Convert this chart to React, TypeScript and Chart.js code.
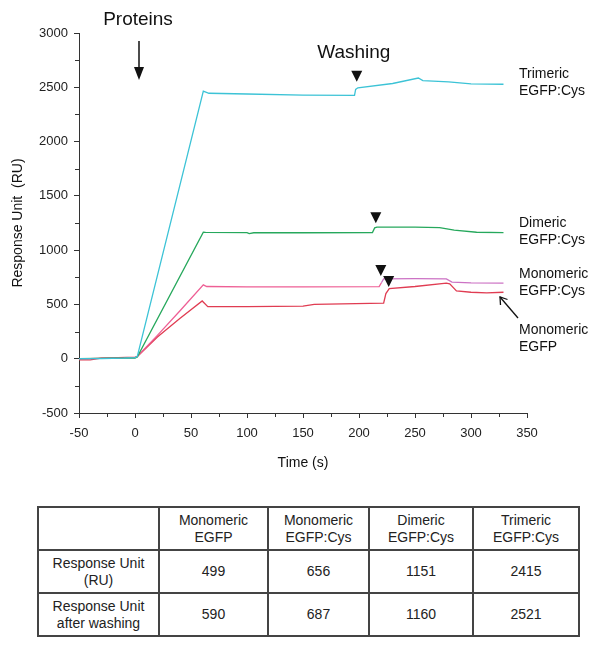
import React, { useEffect, useRef } from "react";
import { Chart, registerables } from "chart.js";

Chart.register(...registerables);

const FONT = "'Liberation Sans', Arial, Helvetica, sans-serif";

// ---- series data (time in s, response in RU) ----
const trimericTime = [-50, -30, -10, 0, 2, 61, 66, 100, 150, 196, 197, 199, 230, 253, 257, 280, 300, 329];
const trimericRU = [0, 0, 5, 10, 20, 2465, 2445, 2438, 2428, 2425, 2480, 2495, 2535, 2585, 2562, 2550, 2532, 2528];

const dimericTime = [-50, -20, 0, 2, 61, 63, 100, 102, 106, 150, 212, 214, 216, 250, 272, 285, 305, 329];
const dimericRU = [0, 5, 5, 15, 1165, 1163, 1162, 1152, 1160, 1160, 1162, 1205, 1212, 1212, 1208, 1185, 1165, 1162];

const monoCysTime = [-50, -30, 0, 2, 20, 40, 61, 64, 100, 150, 218, 220, 222, 250, 278, 283, 300, 329];
const monoCysRU = [-5, 5, 10, 20, 215, 440, 680, 665, 662, 662, 664, 700, 735, 738, 735, 706, 698, 697];

const monoEgfpTime = [-50, -40, -30, 0, 2, 20, 40, 60, 65, 100, 150, 160, 222, 224, 227, 250, 278, 281, 287, 300, 314, 329];
const monoEgfpRU = [-10, -10, 5, 15, 20, 200, 370, 532, 480, 480, 485, 500, 512, 600, 645, 665, 697, 690, 624, 612, 606, 612];

// washing markers (time, RU anchor of the arrowhead)
const washTime = [198, 215, 219.5, 226.5];
const washRU = [2495, 1210, 735, 642];

const seriesLabels = [
  ["Trimeric", "EGFP:Cys"],
  ["Dimeric", "EGFP:Cys"],
  ["Monomeric", "EGFP:Cys"],
  ["Monomeric", "EGFP"],
];

// table data
const tableColumns = ["Monomeric\nEGFP", "Monomeric\nEGFP:Cys", "Dimeric\nEGFP:Cys", "Trimeric\nEGFP:Cys"];
const tableRowLabels = ["Response Unit\n(RU)", "Response Unit\nafter washing"];
const responseRU = [499, 656, 1151, 2415];
const responseAfterWash = [590, 687, 1160, 2521];

const xTicksMin = -50;
const xTicksMax = 350;
const yTicksMin = -500;
const yTicksMax = 3000;

const toPoints = (t: number[], v: number[]) => t.map((x, i) => ({ x, y: v[i] }));

const annotationPlugin = {
  id: "annotations",
  afterDraw(chart: any) {
    const { ctx, scales } = chart;
    const xs = scales.x;
    const ys = scales.y;
    ctx.save();
    // minor ticks
    ctx.strokeStyle = "#333";
    ctx.lineWidth = 1;
    const bottom = chart.chartArea.bottom;
    const left = chart.chartArea.left;
    for (let v = xTicksMin + 25; v < xTicksMax; v += 50) {
      const px = Math.round(xs.getPixelForValue(v)) + 0.5;
      ctx.beginPath();
      ctx.moveTo(px, bottom);
      ctx.lineTo(px, bottom + 4);
      ctx.stroke();
    }
    for (let v = yTicksMin + 250; v < yTicksMax; v += 500) {
      const py = Math.round(ys.getPixelForValue(v)) + 0.5;
      ctx.beginPath();
      ctx.moveTo(left, py);
      ctx.lineTo(left - 4, py);
      ctx.stroke();
    }

    ctx.fillStyle = "#111";
    ctx.strokeStyle = "#111";
    // Proteins label and arrow
    ctx.font = `19px ${FONT}`;
    ctx.textAlign = "center";
    ctx.textBaseline = "middle";
    const px0 = xs.getPixelForValue(0) + 4;
    ctx.fillText("Proteins", px0 - 1, 20);
    ctx.lineWidth = 1.5;
    ctx.beginPath();
    ctx.moveTo(px0, 41);
    ctx.lineTo(px0, 70);
    ctx.stroke();
    ctx.beginPath();
    ctx.moveTo(px0 - 5, 67);
    ctx.lineTo(px0 + 5, 67);
    ctx.lineTo(px0, 80);
    ctx.closePath();
    ctx.fill();

    // Washing label
    ctx.fillText("Washing", xs.getPixelForValue(washTime[0]) - 3, 53);

    // wash triangles
    const gaps = [6, 4, 3, 2];
    washTime.forEach((t, i) => {
      const x = xs.getPixelForValue(t);
      const yb = ys.getPixelForValue(washRU[i]) - gaps[i];
      ctx.beginPath();
      ctx.moveTo(x - 5.5, yb - 11);
      ctx.lineTo(x + 5.5, yb - 11);
      ctx.lineTo(x, yb);
      ctx.closePath();
      ctx.fill();
    });

    // series labels
    ctx.font = `14px ${FONT}`;
    ctx.textAlign = "left";
    const labelY = [74, 223, 274, 330];
    seriesLabels.forEach((lines, i) => {
      lines.forEach((ln, j) => ctx.fillText(ln, 519, labelY[i] + j * 17.5));
    });

    // arrow to Monomeric EGFP
    ctx.lineWidth = 1.3;
    ctx.beginPath();
    ctx.moveTo(518, 318);
    ctx.lineTo(500, 297);
    ctx.stroke();
    ctx.beginPath();
    ctx.moveTo(500.5, 305);
    ctx.lineTo(500, 297);
    ctx.lineTo(507.5, 299.5);
    ctx.stroke();
    ctx.restore();
  },
};

function SprChart() {
  const ref = useRef<HTMLCanvasElement | null>(null);
  useEffect(() => {
    if (!ref.current) return;
    const chart = new Chart(ref.current, {
      type: "line",
      data: {
        datasets: [
          { label: "Trimeric EGFP:Cys", data: toPoints(trimericTime, trimericRU), borderColor: "#3cc3d6" },
          { label: "Dimeric EGFP:Cys", data: toPoints(dimericTime, dimericRU), borderColor: "#26a85c" },
          {
            label: "Monomeric EGFP:Cys",
            data: toPoints(monoCysTime, monoCysRU),
            borderColor: "#ee5f95",
            segment: {
              borderColor: (c: any) => (c.p0.parsed.x >= 219 ? "#cc72c4" : "#ee5f95"),
            },
          },
          { label: "Monomeric EGFP", data: toPoints(monoEgfpTime, monoEgfpRU), borderColor: "#e03c52" },
        ].map((d) => ({ ...d, borderWidth: 1.3, pointRadius: 0, tension: 0, fill: false })),
      },
      options: {
        animation: false,
        responsive: false,
        devicePixelRatio: 1,
        layout: { padding: { left: 0, top: 33, right: 75, bottom: 0 } },
        plugins: { legend: { display: false }, tooltip: { enabled: false } },
        scales: {
          x: {
            type: "linear",
            min: xTicksMin,
            max: xTicksMax,
            afterFit: (s: any) => {
              s.height = 77;
            },
            ticks: {
              stepSize: 50,
              color: "#222",
              font: { family: FONT, size: 13 },
              padding: 8,
              maxRotation: 0,
              callback: (v: any) => String(v),
            },
            grid: { display: true, drawOnChartArea: false, drawTicks: true, tickLength: 5, color: "#333" },
            border: { display: true, color: "#333", width: 1 },
            title: {
              display: true,
              text: "Time (s)",
              color: "#111",
              font: { family: FONT, size: 14 },
              padding: { top: 0, bottom: 18 },
            },
          },
          y: {
            min: yTicksMin,
            max: yTicksMax,
            afterFit: (s: any) => {
              s.width = 79;
            },
            ticks: {
              stepSize: 500,
              color: "#222",
              font: { family: FONT, size: 13 },
              padding: 6,
              callback: (v: any) => String(v),
            },
            grid: { display: true, drawOnChartArea: false, drawTicks: true, tickLength: 5, color: "#333" },
            border: { display: true, color: "#333", width: 1 },
            title: {
              display: true,
              text: "Response Unit  (RU)",
              color: "#111",
              font: { family: FONT, size: 14 },
              padding: { top: 10, bottom: 0 },
            },
          },
        },
      },
      plugins: [annotationPlugin],
    } as any);
    return () => chart.destroy();
  }, []);
  return <canvas ref={ref} width={602} height={490} style={{ display: "block", width: 602, height: 490 }} />;
}

const cellStyle: React.CSSProperties = {
  border: "2px solid #444",
  textAlign: "center",
  verticalAlign: "middle",
  padding: 0,
  whiteSpace: "pre-line",
  lineHeight: "17px",
  fontSize: 14,
  color: "#222",
};

export default function App() {
  const colWidths = [121, 109, 101, 104, 106];
  return (
    <div style={{ position: "absolute", left: 0, top: 0, width: 602, height: 648, background: "#fff", fontFamily: FONT }}>
      <SprChart />
      <table
        style={{
          position: "absolute",
          left: 37,
          top: 506,
          width: 541,
          height: 129,
          borderCollapse: "collapse",
          tableLayout: "fixed",
          fontFamily: FONT,
        }}
      >
        <colgroup>
          {colWidths.map((w, i) => (
            <col key={i} style={{ width: w }} />
          ))}
        </colgroup>
        <tbody>
          <tr style={{ height: 43 }}>
            <td style={cellStyle}></td>
            {tableColumns.map((c, i) => (
              <td key={i} style={cellStyle}>
                {c}
              </td>
            ))}
          </tr>
          <tr style={{ height: 43 }}>
            <td style={cellStyle}>{tableRowLabels[0]}</td>
            {responseRU.map((v, i) => (
              <td key={i} style={cellStyle}>
                {v}
              </td>
            ))}
          </tr>
          <tr style={{ height: 43 }}>
            <td style={cellStyle}>{tableRowLabels[1]}</td>
            {responseAfterWash.map((v, i) => (
              <td key={i} style={cellStyle}>
                {v}
              </td>
            ))}
          </tr>
        </tbody>
      </table>
    </div>
  );
}
